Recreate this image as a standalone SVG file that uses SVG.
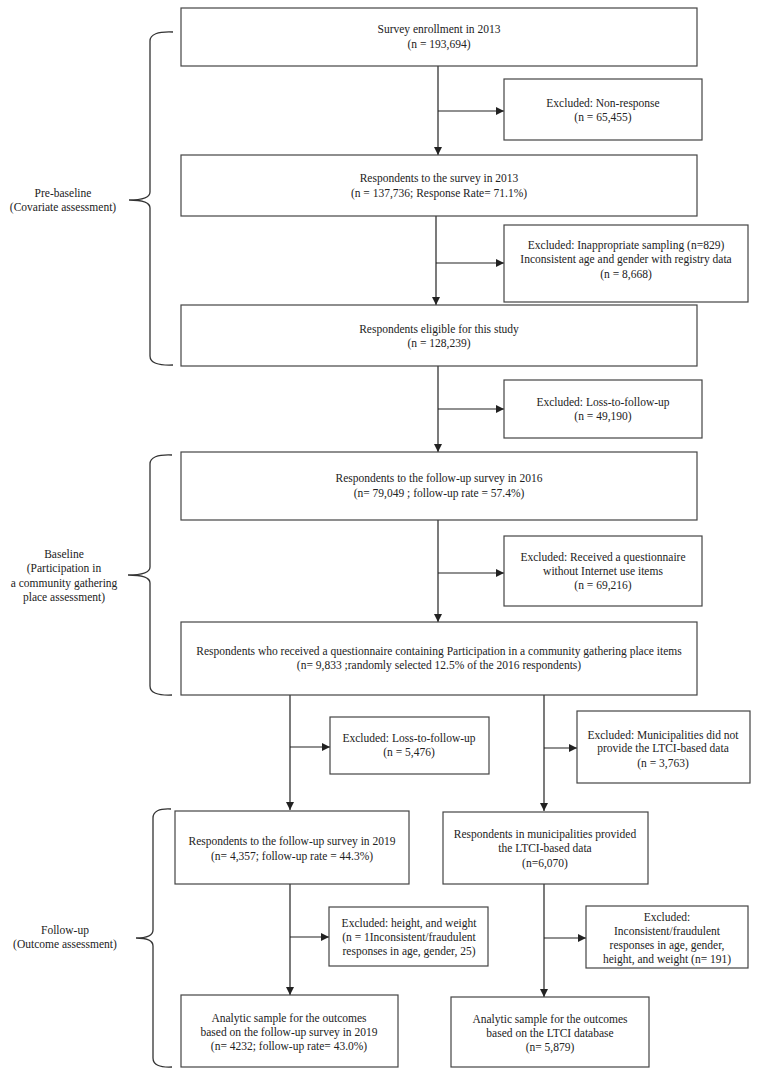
<svg xmlns="http://www.w3.org/2000/svg" width="759" height="1077" viewBox="0 0 759 1077">
<style>
text{font-family:"Liberation Serif","Times New Roman",serif;font-size:11.5px;fill:#222;text-anchor:middle}
.box{fill:#fff;stroke:#444;stroke-width:1.2}
.ln{fill:none;stroke:#222;stroke-width:1.2}
.br{fill:none;stroke:#333;stroke-width:1.3}
</style>
<defs>
<marker id="ah" viewBox="0 0 10 10" refX="10" refY="5" markerWidth="8" markerHeight="8" markerUnits="userSpaceOnUse" orient="auto">
<path d="M0,0 L10,5 L0,10 Z" fill="#222"/>
</marker>
</defs>
<rect width="759" height="1077" fill="#fff"/>

<g id="brace-prebaseline">
<path class="br" d="M173,32 Q150,31 150,41 L150,192 Q150,200 129,200 Q150,200 150,208 L150,356 Q150,366 173,365"/>
<text x="63" y="197">Pre-baseline</text>
<text x="63" y="211">(Covariate assessment)</text>
</g>
<g id="brace-baseline">
<path class="br" d="M172,455 Q150,454 150,464 L150,567 Q150,575 128,575 Q150,575 150,583 L150,686 Q150,696 172,695"/>
<text x="64" y="558">Baseline</text>
<text x="64" y="572">(Participation in</text>
<text x="64" y="587">a community gathering</text>
<text x="64" y="601">place assessment)</text>
</g>
<g id="brace-followup">
<path class="br" d="M171,809 Q153,808 153,818 L153,930 Q153,938 136,938 Q153,938 153,946 L153,1058 Q153,1068 172,1067"/>
<text x="65" y="934">Follow-up</text>
<text x="65" y="948">(Outcome assessment)</text>
</g>

<g id="connectors">
<path class="ln" d="M438,66 L438,155" marker-end="url(#ah)"/>
<path class="ln" d="M438,111 L504,111" marker-end="url(#ah)"/>
<path class="ln" d="M436,216 L436,305" marker-end="url(#ah)"/>
<path class="ln" d="M436,263 L504,263" marker-end="url(#ah)"/>
<path class="ln" d="M438,366 L438,452" marker-end="url(#ah)"/>
<path class="ln" d="M438,409 L504,409" marker-end="url(#ah)"/>
<path class="ln" d="M438,520 L438,622" marker-end="url(#ah)"/>
<path class="ln" d="M438,573 L504,573" marker-end="url(#ah)"/>
<path class="ln" d="M290,695 L290,810" marker-end="url(#ah)"/>
<path class="ln" d="M290,747 L330,747" marker-end="url(#ah)"/>
<path class="ln" d="M544,695 L544,811" marker-end="url(#ah)"/>
<path class="ln" d="M544,748 L577,748" marker-end="url(#ah)"/>
<path class="ln" d="M290,884 L290,995" marker-end="url(#ah)"/>
<path class="ln" d="M290,937 L329,937" marker-end="url(#ah)"/>
<path class="ln" d="M544,884 L544,997" marker-end="url(#ah)"/>
<path class="ln" d="M544,938 L586,938" marker-end="url(#ah)"/>
</g>

<g id="n1"><rect class="box" x="181" y="8" width="516" height="58"/>
<text x="439" y="33">Survey enrollment in 2013</text>
<text x="439" y="48">(n = 193,694)</text></g>

<g id="n2"><rect class="box" x="504" y="79" width="198" height="61"/>
<text x="603" y="107">Excluded: Non-response</text>
<text x="603" y="121">(n = 65,455)</text></g>

<g id="n3"><rect class="box" x="181" y="155" width="516" height="61"/>
<text x="439" y="182">Respondents to the survey in 2013</text>
<text x="439" y="197">(n = 137,736; Response Rate= 71.1%)</text></g>

<g id="n4"><rect class="box" x="504" y="225" width="244" height="77"/>
<text x="626" y="249">Excluded: Inappropriate sampling (n=829)</text>
<text x="626" y="263">Inconsistent age and gender with registry data</text>
<text x="626" y="278">(n = 8,668)</text></g>

<g id="n5"><rect class="box" x="181" y="305" width="516" height="61"/>
<text x="439" y="333">Respondents eligible for this study</text>
<text x="439" y="347">(n = 128,239)</text></g>

<g id="n6"><rect class="box" x="504" y="380" width="198" height="58"/>
<text x="603" y="406">Excluded: Loss-to-follow-up</text>
<text x="603" y="420">(n = 49,190)</text></g>

<g id="n7"><rect class="box" x="181" y="452" width="516" height="68"/>
<text x="439" y="482">Respondents to the follow-up survey in 2016</text>
<text x="439" y="497">(n= 79,049 ; follow-up rate = 57.4%)</text></g>

<g id="n8"><rect class="box" x="504" y="536" width="198" height="70"/>
<text x="603" y="561">Excluded: Received a questionnaire</text>
<text x="603" y="575">without Internet use items</text>
<text x="603" y="589">(n = 69,216)</text></g>

<g id="n9"><rect class="box" x="181" y="622" width="516" height="73"/>
<text x="439" y="655">Respondents who received a questionnaire containing Participation in a community gathering place items</text>
<text x="439" y="669">(n= 9,833 ;randomly selected  12.5% of the 2016 respondents)</text></g>

<g id="n10"><rect class="box" x="330" y="717" width="159" height="57"/>
<text x="409" y="742">Excluded: Loss-to-follow-up</text>
<text x="409" y="756">(n = 5,476)</text></g>

<g id="n11"><rect class="box" x="577" y="711" width="173" height="72"/>
<text x="663" y="739">Excluded: Municipalities did not</text>
<text x="663" y="752">provide the LTCI-based data</text>
<text x="663" y="767">(n = 3,763)</text></g>

<g id="n12"><rect class="box" x="175" y="811" width="234" height="73"/>
<text x="292" y="845">Respondents to the follow-up survey in 2019</text>
<text x="292" y="860">(n= 4,357; follow-up rate = 44.3%)</text></g>

<g id="n13"><rect class="box" x="443" y="812" width="205" height="72"/>
<text x="545" y="838">Respondents in municipalities provided</text>
<text x="545" y="852">the LTCI-based data</text>
<text x="545" y="867">(n=6,070)</text></g>

<g id="n14"><rect class="box" x="329" y="907" width="159" height="59"/>
<text x="409" y="927">Excluded: height, and weight</text>
<text x="409" y="941">(n = 1Inconsistent/fraudulent</text>
<text x="409" y="955">responses in age, gender, 25)</text></g>

<g id="n15"><rect class="box" x="586" y="906" width="162" height="62"/>
<text x="667" y="921">Excluded:</text>
<text x="667" y="935">Inconsistent/fraudulent</text>
<text x="667" y="949">responses in age, gender,</text>
<text x="667" y="963">height, and weight (n= 191)</text></g>

<g id="n16"><rect class="box" x="181" y="995" width="217" height="72"/>
<text x="289" y="1022">Analytic sample for the outcomes</text>
<text x="289" y="1036">based on the follow-up survey in 2019</text>
<text x="289" y="1050">(n= 4232; follow-up rate= 43.0%)</text></g>

<g id="n17"><rect class="box" x="451" y="997" width="198" height="70"/>
<text x="550" y="1023">Analytic sample for the outcomes</text>
<text x="550" y="1037">based on the LTCI database</text>
<text x="550" y="1051">(n= 5,879)</text></g>
</svg>
